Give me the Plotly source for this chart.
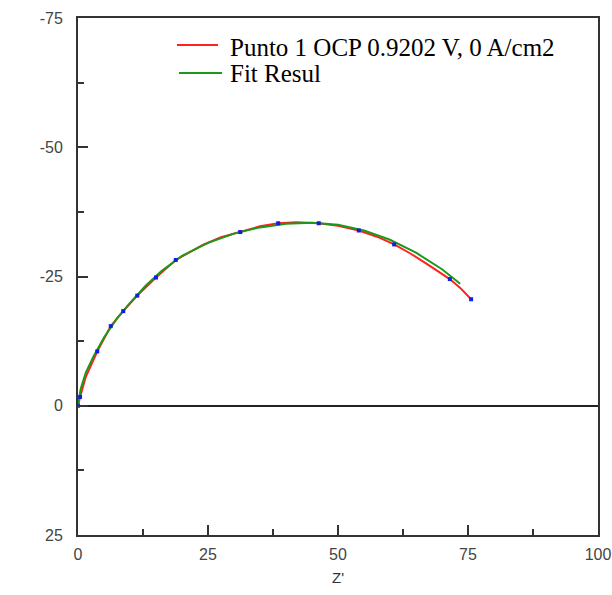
import plotly.graph_objects as go

# Measured impedance, Punto 1 at OCP (ohm·cm2): real and imaginary parts
z_re = [0.0, 0.4, 1.5, 3.7, 6.3, 8.7, 11.4, 15.0, 18.8, 24.0, 27.5, 31.2, 35.0,
        38.5, 42.0, 46.3, 50.0, 54.0, 57.5, 60.8, 64.0, 67.0, 69.5, 71.5, 73.5, 75.6]
z_im = [0.0, -1.7, -5.6, -10.5, -15.4, -18.3, -21.3, -24.8, -28.2, -31.1, -32.6, -33.6, -34.7,
        -35.3, -35.5, -35.3, -34.8, -33.9, -32.7, -31.2, -29.4, -27.5, -25.8, -24.5, -22.8, -20.6]
# indices of the points drawn with markers
marked = [0, 1, 3, 4, 5, 6, 7, 8, 11, 13, 15, 17, 19, 23, 25]

# Equivalent-circuit fit result
fit_re = [0.0, 0.5, 1.5, 3.0, 5.0, 7.5, 10.0, 13.0, 16.0, 20.0, 25.0, 30.0, 35.0,
          40.0, 45.0, 50.0, 55.0, 60.0, 65.0, 70.0, 73.5]
fit_im = [0.0, -3.2, -6.4, -9.6, -13.2, -16.9, -19.9, -23.2, -26.0, -29.0, -31.5, -33.3, -34.5,
          -35.2, -35.4, -35.0, -33.9, -32.1, -29.6, -26.4, -23.6]

x_ticks = [0, 25, 50, 75, 100]
y_ticks = [-75, -50, -25, 0, 25]

series_names = ["Punto 1 OCP 0.9202 V, 0 A/cm2", "Fit Resul"]
series_colors = ["#ff2020", "#1a9a1a"]

fig = go.Figure()
fig.add_trace(go.Scatter(x=z_re, y=z_im, mode="lines", showlegend=False,
                         line=dict(color=series_colors[0], width=2),
                         name=series_names[0]))
fig.add_trace(go.Scatter(x=fit_re, y=fit_im, mode="lines", showlegend=False,
                         line=dict(color=series_colors[1], width=2),
                         name=series_names[1]))
fig.add_trace(go.Scatter(x=[z_re[i] for i in marked], y=[z_im[i] for i in marked],
                         mode="markers", showlegend=False,
                         marker=dict(color="#1020e0", size=4, symbol="square")))

# Legend drawn as line samples plus labels inside the plot area
legend_rows = [(0.9478, 0.9439, 0.1904, 0.2692), (0.8936, 0.8917, 0.1942, 0.2769)]
shapes, annotations = [], []
for (y_line, y_text, x0, x1), name, color in zip(legend_rows, series_names, series_colors):
    shapes.append(dict(type="line", xref="paper", yref="paper", x0=x0, x1=x1,
                       y0=y_line, y1=y_line, line=dict(color=color, width=2)))
    annotations.append(dict(xref="paper", yref="paper", x=0.2885, y=y_text,
                            xanchor="left", yanchor="middle", showarrow=False,
                            text=name,
                            font=dict(family="Liberation Serif, Times New Roman, serif",
                                      size=25, color="black")))

axis_common = dict(
    showline=True, linecolor="#333333", linewidth=2, mirror=True,
    ticks="inside", ticklen=10, tickwidth=2, tickcolor="#333333",
    showgrid=False, automargin=False,
    tickfont=dict(family="Liberation Sans, Arial, sans-serif", size=16, color="#444444"),
)

fig.update_layout(
    width=612, height=595,
    margin=dict(l=78, r=14, t=18, b=60),
    paper_bgcolor="white", plot_bgcolor="white",
    showlegend=False,
    shapes=shapes, annotations=annotations,
    xaxis=dict(range=[0, 100], tickmode="array", tickvals=x_ticks,
               ticktext=[str(v) for v in x_ticks],
               minor=dict(dtick=12.5, tick0=0, ticks="inside", ticklen=6,
                          tickwidth=2, tickcolor="#333333"),
               zeroline=False, ticklabelstandoff=4,
               title=dict(text="Z'", font=dict(family="Liberation Sans, Arial, sans-serif",
                                                 size=15, color="#333333"), standoff=10),
               **axis_common),
    yaxis=dict(range=[25, -75], tickmode="array", tickvals=y_ticks,
               ticktext=[str(v) for v in y_ticks],
               minor=dict(dtick=12.5, tick0=0, ticks="inside", ticklen=6,
                          tickwidth=2, tickcolor="#333333"),
               zeroline=True, zerolinecolor="#222222", zerolinewidth=2,
               ticklabelstandoff=10,
               **axis_common),
)

fig.write_html("out.html")
